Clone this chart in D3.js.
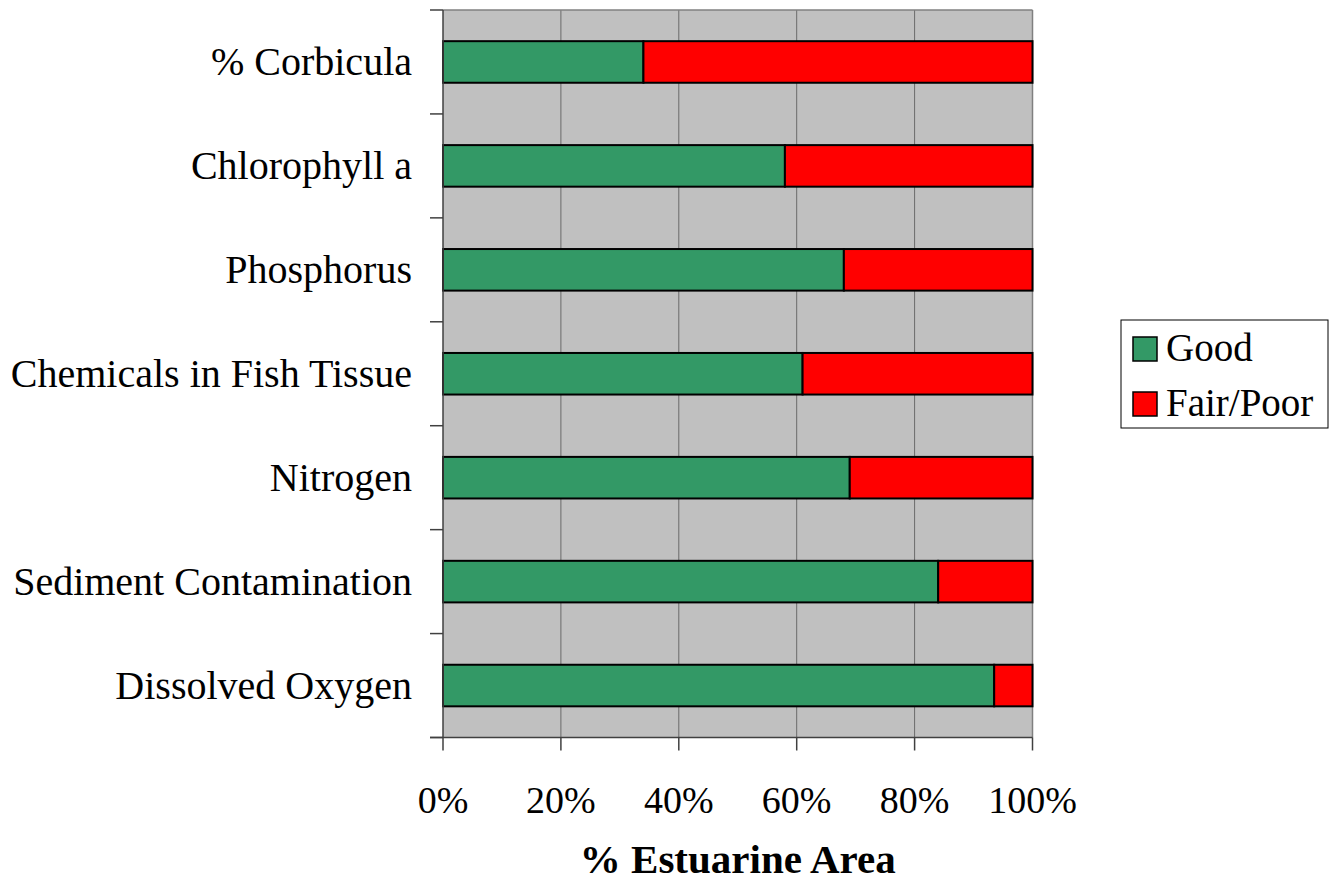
<!DOCTYPE html>
<html><head><meta charset="utf-8">
<script src="https://cdn.jsdelivr.net/npm/d3@7"></script>
<style>body{margin:0;background:#fff}svg{display:block}text{font-family:"Liberation Serif","Times New Roman",serif}</style>
</head><body>
<svg id="c" width="1331" height="881"></svg>
<script>
const categories = ["% Corbicula","Chlorophyll a","Phosphorus","Chemicals in Fish Tissue","Nitrogen","Sediment Contamination","Dissolved Oxygen"];
const good = [34, 58, 68, 61, 69, 84, 93.5];
const fairPoor = good.map(g => 100 - g);
const seriesNames = ["Good","Fair/Poor"];
const seriesColors = ["#339966","#ff0000"];
const xTicks = [0,20,40,60,80,100];
const xTitle = "% Estuarine Area";

const svg = d3.select("#c");
const L = 443, R = 1032.5, T = 10, B = 737.5;
const x = d3.scaleLinear().domain([0,100]).range([L,R]);
const y = d3.scaleBand().domain(categories).range([T,B]);

svg.append("rect").attr("x",L).attr("y",T).attr("width",R-L).attr("height",B-T).attr("fill","#c0c0c0");
svg.append("g").selectAll("line").data(xTicks.slice(1)).join("line")
  .attr("x1",d=>x(d)).attr("x2",d=>x(d)).attr("y1",T).attr("y2",B)
  .attr("stroke","#6a6a6a").attr("stroke-width",1);
svg.append("line").attr("x1",L).attr("x2",R).attr("y1",T).attr("y2",T).attr("stroke","#808080").attr("stroke-width",1.5);
svg.append("line").attr("x1",R).attr("x2",R).attr("y1",T).attr("y2",B).attr("stroke","#808080").attr("stroke-width",1.5);

const data = categories.map((c,i)=>({c, vals:[good[i], fairPoor[i]]}));
const bh = y.bandwidth()*0.4;
const g = svg.append("g");
data.forEach(d=>{
  let acc = 0;
  d.vals.forEach((v,j)=>{
    g.append("rect")
      .attr("x",x(acc)).attr("width",x(acc+v)-x(acc))
      .attr("y",y(d.c)+y.bandwidth()/2-bh/2).attr("height",bh)
      .attr("fill",seriesColors[j]).attr("stroke","#000").attr("stroke-width",2);
    acc += v;
  });
});

const ya = svg.append("g").attr("transform",`translate(${L},0)`);
ya.append("line").attr("x1",0).attr("x2",0).attr("y1",T).attr("y2",B).attr("stroke","#404040").attr("stroke-width",1.5);
const bounds = categories.map(c=>y(c)).concat([B]);
ya.selectAll(".tk").data(bounds).join("line").attr("class","tk")
  .attr("x1",-13).attr("x2",0).attr("y1",d=>d).attr("y2",d=>d).attr("stroke","#404040").attr("stroke-width",1.5);
ya.selectAll("text").data(categories).join("text")
  .attr("x",-31).attr("y",d=>y(d)+y.bandwidth()/2+13)
  .attr("text-anchor","end").attr("font-size",40).attr("fill","#000").text(d=>d);

const xa = svg.append("g").attr("transform",`translate(0,${B})`);
xa.append("line").attr("x1",L-13).attr("x2",R).attr("y1",0).attr("y2",0).attr("stroke","#404040").attr("stroke-width",1.5);
xa.selectAll(".tk").data(xTicks).join("line").attr("class","tk")
  .attr("x1",d=>x(d)).attr("x2",d=>x(d)).attr("y1",0).attr("y2",13).attr("stroke","#404040").attr("stroke-width",1.5);
xa.selectAll("text").data(xTicks).join("text")
  .attr("x",d=>x(d)).attr("y",75).attr("text-anchor","middle").attr("font-size",38).attr("fill","#000")
  .text(d=>d+"%");

svg.append("text").attr("x",(L+R)/2).attr("y",873).attr("text-anchor","middle")
  .attr("font-size",41).attr("font-weight","bold").attr("fill","#000").text(xTitle);

const lg = svg.append("g");
lg.append("rect").attr("x",1121).attr("y",320).attr("width",207).attr("height",108)
  .attr("fill","#fff").attr("stroke","#000").attr("stroke-width",1);
seriesNames.forEach((n,i)=>{
  const yy = 337 + i*55;
  lg.append("rect").attr("x",1133).attr("y",yy).attr("width",24).attr("height",24)
    .attr("fill",seriesColors[i]).attr("stroke","#000").attr("stroke-width",1.5);
  lg.append("text").attr("x",1166).attr("y",yy+24).attr("font-size",39).attr("fill","#000").text(n);
});
</script>
</body></html>
